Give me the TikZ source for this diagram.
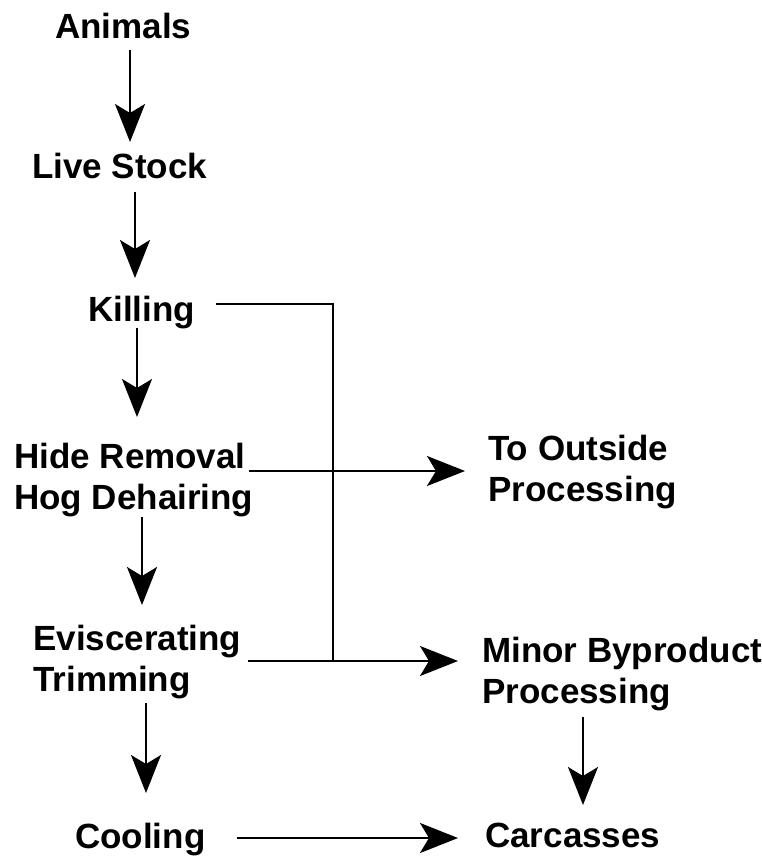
\documentclass[tikz,border=0pt]{standalone}
\usepackage{fontspec}
\setmainfont{Liberation Sans}
\usetikzlibrary{arrows.meta,calc}
\tikzset{
  lbl/.style={inner sep=0pt, anchor=north west, align=left,
    font=\bfseries\fontsize{35}{41}\selectfont},
  arr/.style={line width=2pt, -{Stealth[length=38pt,width=30pt,inset=9pt,fill=black]}},
  ln/.style={line width=2pt}
}
\begin{document}
\begin{tikzpicture}[x=1pt,y=-1pt]
\path[use as bounding box, fill=white] (0,0) rectangle (761,857);
\node[lbl] (animals) at (55,13) {Animals};
\node[lbl] (live) at (32,153) {Live Stock};
\node[lbl] (killing) at (88,296) {Killing};
\node[lbl] (hide) at (14,443) {Hide Removal\\Hog Dehairing};
\node[lbl] (outside) at (488,435) {To Outside\\Processing};
\node[lbl] (evisc) at (33,625) {Eviscerating\\Trimming};
\node[lbl] (minor) at (482,637) {Minor Byproduct\\Processing};
\node[lbl] (cooling) at (75,823) {Cooling};
\node[lbl] (carc) at (485,823) {Carcasses};

\draw[arr] ($(animals.north west)+(75,37)$) -- ($(live.north west)+(98,-11)$);
\draw[arr] ($(live.north west)+(103,39)$) -- ($(killing.north west)+(47,-18)$);
\draw[arr] ($(killing.north west)+(49,32)$) -- ($(hide.north west)+(123,-26)$);
\draw[arr] ($(hide.north west)+(128,74)$) -- ($(evisc.north west)+(109,-20)$);
\draw[arr] ($(evisc.north west)+(113,78)$) -- ($(cooling.north west)+(71,-30)$);
\draw[arr] ($(cooling.north west)+(162,15)$) -- ($(carc.north west)+(-27,15)$);
\draw[arr] ($(hide.north west)+(235,28)$) -- ($(outside.north west)+(-23,36)$);
\draw[arr] ($(evisc.north west)+(215,36)$) -- ($(minor.north west)+(-24,24)$);
\coordinate (j) at ($(evisc.north west)+(300,36)$);
\draw[ln] ($(killing.north west)+(128,8)$) -| (j);
\draw[arr] ($(minor.north west)+(101,80)$) -- ($(carc.north west)+(98,-18)$);
\end{tikzpicture}
\end{document}
